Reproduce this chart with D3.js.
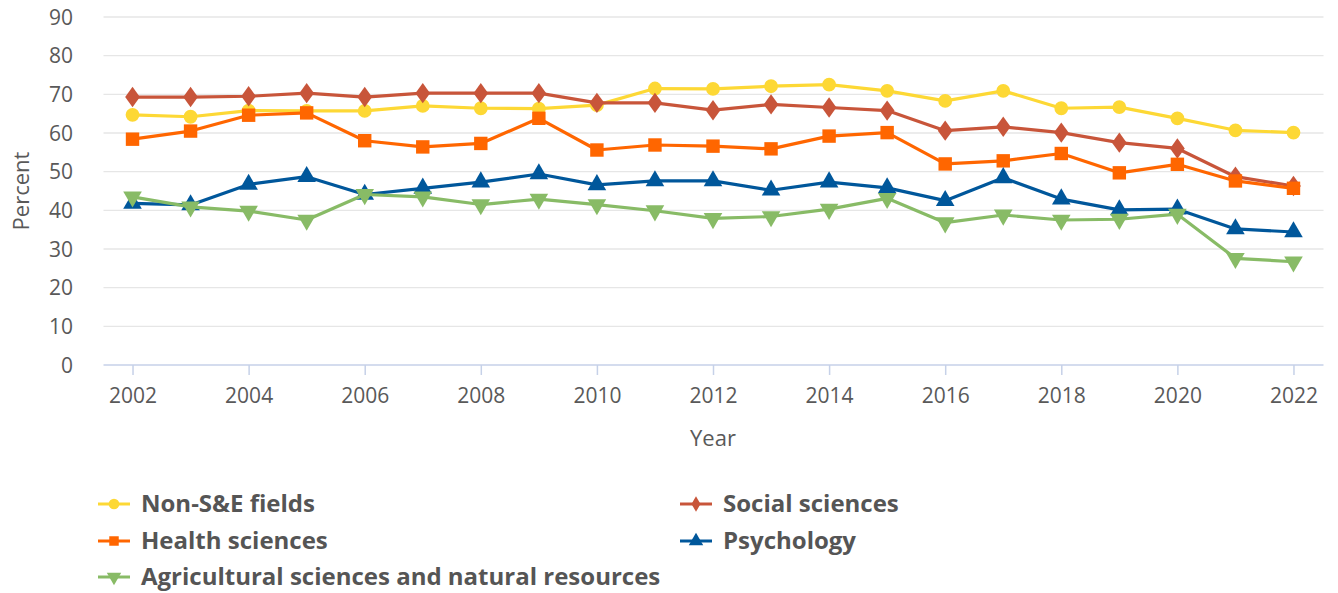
<!DOCTYPE html>
<html><head><meta charset="utf-8">
<script src="https://cdn.jsdelivr.net/npm/d3@7"></script>
<style>
body{margin:0;background:#fff;}
svg{display:block;font-family:"Open Sans",sans-serif;}
</style></head>
<body><svg id="c" width="1338" height="593"></svg>
<script>
const years = [2002,2003,2004,2005,2006,2007,2008,2009,2010,2011,2012,2013,2014,2015,2016,2017,2018,2019,2020,2021,2022];
const yTicks = [0,10,20,30,40,50,60,70,80,90];
const xTicks = [2002,2004,2006,2008,2010,2012,2014,2016,2018,2020,2022];
const nonSE = [64.7,64.2,65.8,65.7,65.7,67.0,66.4,66.3,67.2,71.5,71.4,72.1,72.5,70.9,68.3,70.9,66.4,66.7,63.8,60.7,60.1];
const social = [69.3,69.3,69.5,70.3,69.3,70.3,70.3,70.3,67.8,67.8,65.9,67.4,66.6,65.8,60.6,61.6,60.1,57.5,56.0,48.7,46.3];
const health = [58.4,60.5,64.6,65.2,58.0,56.4,57.3,63.8,55.6,56.9,56.6,55.9,59.2,60.1,52.0,52.8,54.7,49.7,51.9,47.6,45.7];
const psych = [41.8,41.4,46.7,48.7,44.1,45.7,47.3,49.4,46.6,47.6,47.6,45.2,47.3,45.8,42.5,48.4,42.9,40.1,40.3,35.2,34.4];
const agri = [43.5,40.9,39.8,37.5,44.1,43.5,41.5,42.9,41.5,39.9,37.9,38.4,40.3,43.1,36.8,38.8,37.5,37.7,39.0,27.6,26.7];
const seriesNames = ["Non-S&E fields","Social sciences","Health sciences","Psychology","Agricultural sciences and natural resources"];
const seriesColors = ["#fdd835","#c8553a","#ff6600","#00579b","#88bb66"];
const seriesSymbols = ["circle","diamond","square","triangle","triangleDown"];
const seriesValues = [nonSE, social, health, psych, agri];

const svg = d3.select("#c");
const pLeft = 103.5, pRight = 1322.5, pTop = 17, pBottom = 365;
const x = d3.scalePoint().domain(years).range([pLeft, pRight]).padding(0.5);
const y = d3.scaleLinear().domain([0,90]).range([pBottom, pTop]);

// gridlines
svg.append("g").selectAll("line").data(yTicks.filter(d=>d>0)).join("line")
  .attr("x1", pLeft).attr("x2", pRight+1)
  .attr("y1", d=>y(d)).attr("y2", d=>y(d))
  .attr("stroke","#e6e6e6").attr("stroke-width",1.3);

// y axis labels
const yAxis = d3.axisLeft(y).tickValues(yTicks).tickSize(0).tickPadding(30.5);
const gy = svg.append("g").attr("transform",`translate(${pLeft},0)`).call(yAxis);
gy.select(".domain").remove();
gy.selectAll("text").attr("font-size",21).attr("fill","#595959").attr("font-family","Open Sans").attr("dy","0.34em");

// x axis
const xAxis = d3.axisBottom(x).tickValues(xTicks).tickSize(10).tickPadding(13).tickSizeOuter(0);
const gx = svg.append("g").attr("transform",`translate(0,${pBottom})`).call(xAxis);
gx.select(".domain").attr("stroke","#c6d1e8").attr("stroke-width",1.5).attr("d",`M${pLeft},0H${pRight+1}`);
gx.selectAll(".tick line").attr("stroke","#c6d1e8").attr("stroke-width",1.5);
gx.selectAll("text").attr("font-size",21).attr("fill","#595959").attr("font-family","Open Sans");

// axis titles
svg.append("text").attr("transform","translate(29,191) rotate(-90)").attr("text-anchor","middle")
  .attr("font-size",22).attr("fill","#595959").text("Percent");
svg.append("text").attr("x",713).attr("y",446).attr("text-anchor","middle")
  .attr("font-size",22).attr("fill","#595959").text("Year");

function symbolPath(kind, size){
  const m = {circle:d3.symbolCircle, diamond:d3.symbolDiamond, square:d3.symbolSquare, triangle:d3.symbolTriangle, triangleDown:d3.symbolTriangle};
  return d3.symbol().type(m[kind]).size(size)();
}
const markerSizes = {circle:150, diamond:120, square:180, triangle:150, triangleDown:150};

const line = d3.line().x((d,i)=>x(years[i])).y(d=>y(d));
seriesValues.forEach((vals, k)=>{
  const g = svg.append("g");
  g.append("path").attr("d", line(vals)).attr("fill","none")
    .attr("stroke", seriesColors[k]).attr("stroke-width",3.2).attr("stroke-linejoin","round");
  g.selectAll("path.m").data(vals).join("path").attr("class","m")
    .attr("d", symbolPath(seriesSymbols[k], markerSizes[seriesSymbols[k]]))
    .attr("transform",(d,i)=>`translate(${x(years[i])},${y(d)})${seriesSymbols[k]==="triangleDown"?" rotate(180)":""}${seriesSymbols[k]==="diamond"?" scale(1.25,1)":""}`)
    .attr("fill", seriesColors[k]);
});

// legend
const legendPos = [[98,504],[680,504],[98,541],[680,541],[98,577]];
seriesNames.forEach((name,k)=>{
  const [lx, ly] = legendPos[k];
  const g = svg.append("g").attr("transform",`translate(${lx},${ly})`);
  g.append("line").attr("x1",0).attr("x2",32).attr("y1",0).attr("y2",0)
    .attr("stroke",seriesColors[k]).attr("stroke-width",3);
  const s = seriesSymbols[k];
  g.append("path").attr("d", symbolPath(s, {circle:90,diamond:70,square:90,triangle:90,triangleDown:90}[s]))
    .attr("transform",`translate(16,0)${s==="triangleDown"?" rotate(180)":""}`)
    .attr("fill",seriesColors[k]);
  g.append("text").attr("x",43).attr("y",0).attr("dy","0.35em")
    .attr("font-size",24).attr("font-weight","bold").attr("fill","#555555").text(name);
});
</script></body></html>
